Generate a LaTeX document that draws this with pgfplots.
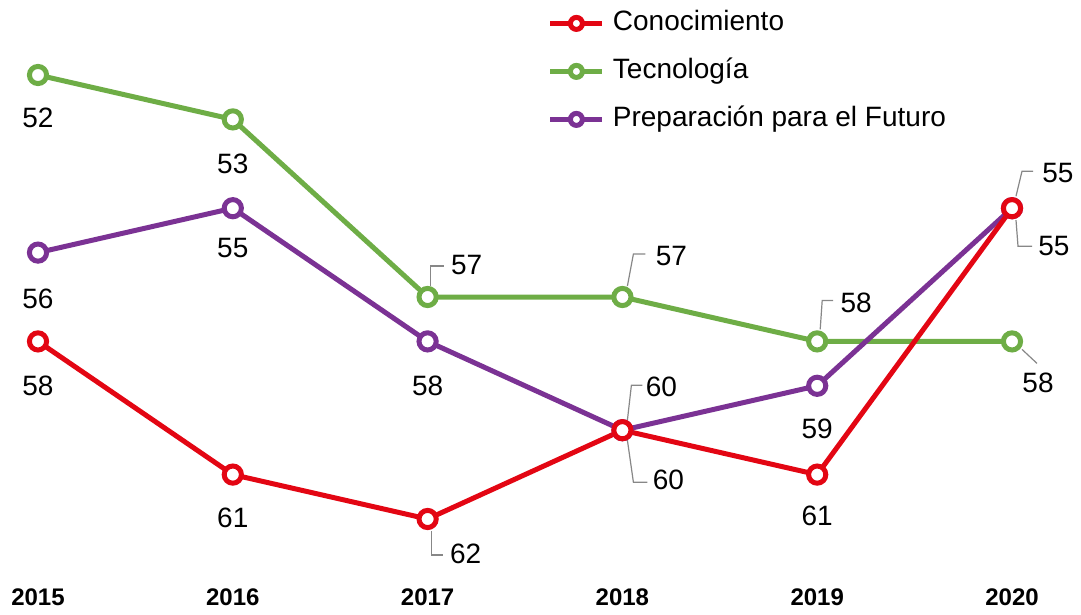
\documentclass[border=0pt]{standalone}
\usepackage{fontspec}
\setmainfont{Liberation Sans}
\usepackage{pgfplots}
\pgfplotsset{compat=1.18}
\usetikzlibrary{calc}
\definecolor{cRed}{RGB}{227,6,19}
\definecolor{cGreen}{RGB}{110,173,70}
\definecolor{cPurple}{RGB}{123,50,148}
\definecolor{cLead}{RGB}{135,135,135}
\newcommand\lbl{\fontsize{14}{16}\selectfont}
\newcommand\below[3]{\node[inner sep=0pt,font=\lbl] at ($(axis cs:#1,#2)+(0pt,-#3)$) {#2};}
\newcommand\lead[7]{%
 \draw[cLead,line width=0.6pt] ($(axis cs:#1,#2)+(#3)$) -- ($(axis cs:#1,#2)+(#4)$) -- ($(axis cs:#1,#2)+(#5)$);
 \node[inner sep=0pt,font=\lbl,anchor=west] at ($(axis cs:#1,#2)+(#6)$) {#7};}
\begin{document}
\begin{tikzpicture}
\useasboundingbox (0,0) rectangle (540.5pt,307.5pt);
\begin{axis}[
  at={(19pt,48pt)}, anchor=south west,
  scale only axis, width=487pt, height=222pt,
  xmin=2015, xmax=2020, ymin=52, ymax=62, y dir=reverse,
  clip=false, axis line style={draw=none}, major tick length=0pt,
  xtick={2015,2016,2017,2018,2019,2020},
  xticklabels={2015,2016,2017,2018,2019,2020},
  xticklabel style={font=\bfseries\fontsize{12}{12}\selectfont, inner sep=0pt, anchor=north, yshift=-34.5pt},
  ytick=\empty,
  every axis plot/.append style={line width=2.5pt, mark=*, mark size=4.3pt, mark options={fill=white,solid}},
  legend image code/.code={\draw[line width=2.5pt] (0pt,0pt) -- (26pt,0pt); \draw[line width=2.5pt, fill=white] (13pt,0pt) circle (3pt);},
  legend cell align=left,
  legend style={draw=none, fill=none, inner sep=0pt, at={(axis description cs:0.5231,1.1464)}, anchor=north west,
    row sep=11pt, column sep=4pt,
    nodes={inner sep=0pt, text height=10pt, text depth=3pt, font=\fontsize{14}{16}\selectfont}},
]
\addlegendimage{cRed}\addlegendentry{Conocimiento}
\addlegendimage{cGreen}\addlegendentry{Tecnología}
\addlegendimage{cPurple}\addlegendentry{Preparación para el Futuro}
\addplot[cGreen, forget plot] coordinates {(2015,52) (2016,53) (2017,57) (2018,57) (2019,58) (2020,58)};
\addplot[cPurple, forget plot] coordinates {(2015,56) (2016,55) (2017,58) (2018,60) (2019,59) (2020,55)};
\addplot[cRed, forget plot] coordinates {(2015,58) (2016,61) (2017,62) (2018,60) (2019,61) (2020,55)};
% labels below points
\below{2015}{52}{21.5pt}
\below{2016}{53}{22pt}
\below{2015}{56}{23pt}
\below{2016}{55}{20pt}
\below{2017}{58}{22pt}
\below{2019}{59}{21.5pt}
\below{2015}{58}{22pt}
\below{2016}{61}{21.5pt}
\below{2019}{61}{20.5pt}
% leader labels
\lead{2017}{57}{1.5pt,5.5pt}{1.5pt,15.5pt}{8pt,15.5pt}{11.5pt,16pt}{57}
\lead{2018}{57}{2.5pt,5.5pt}{5.5pt,21.5pt}{11.5pt,21.5pt}{16.5pt,20.5pt}{57}
\lead{2019}{58}{1.5pt,6pt}{2.5pt,20.5pt}{8pt,20.5pt}{11.5pt,19.5pt}{58}
\lead{2020}{55}{2pt,6pt}{5pt,18.5pt}{10.5pt,18.5pt}{15pt,17.5pt}{55}
\lead{2020}{55}{2pt,-6pt}{3pt,-19pt}{10pt,-19pt}{13pt,-19pt}{55}
\lead{2018}{60}{2.5pt,5pt}{4.5pt,22.5pt}{10pt,22.5pt}{11.5pt,21.5pt}{60}
\lead{2018}{60}{2.5pt,-5pt}{5.5pt,-26pt}{12.5pt,-26pt}{15pt,-25pt}{60}
\lead{2017}{62}{2pt,-6pt}{2pt,-18pt}{7.5pt,-18pt}{11pt,-17.5pt}{62}
\draw[cLead,line width=0.6pt] ($(axis cs:2020,58)+(5pt,-4pt)$) -- ($(axis cs:2020,58)+(12.5pt,-11pt)$);
\node[inner sep=0pt,font=\lbl] at ($(axis cs:2020,58)+(13pt,-20.5pt)$) {58};
\end{axis}
\end{tikzpicture}
\end{document}
